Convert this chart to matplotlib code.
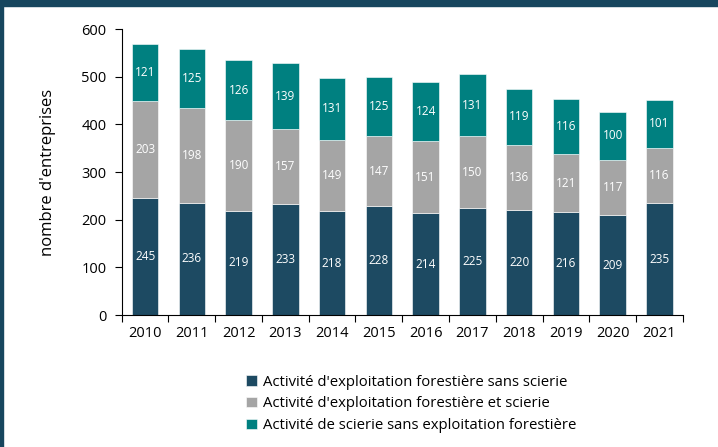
import matplotlib
matplotlib.use("Agg")
import matplotlib.pyplot as plt
from matplotlib.patches import Rectangle
import numpy as np

plt.rcParams["font.family"] = ["Open Sans", "DejaVu Sans"]

years = ["2010", "2011", "2012", "2013", "2014", "2015",
         "2016", "2017", "2018", "2019", "2020", "2021"]
sans_scierie = [245, 236, 219, 233, 218, 228, 214, 225, 220, 216, 209, 235]
et_scierie = [203, 198, 190, 157, 149, 147, 151, 150, 136, 121, 117, 116]
scierie_seule = [121, 125, 126, 139, 131, 125, 124, 131, 119, 116, 100, 101]

series = [
    ("Activité d'exploitation forestière sans scierie", sans_scierie, "#1d4a62"),
    ("Activité d'exploitation forestière et scierie", et_scierie, "#a5a5a5"),
    ("Activité de scierie sans exploitation forestière", scierie_seule, "#008080"),
]

fig = plt.figure(figsize=(7.18, 4.47), dpi=100)
ax = fig.add_axes([0.1695, 0.2953, 0.7815, 0.6397])

x = np.arange(len(years))
bottom = np.zeros(len(years))
handles = []
for name, vals, col in series:
    vals = np.array(vals, dtype=float)
    b = ax.bar(x, vals, width=0.57, bottom=bottom, color=col,
               edgecolor="white", linewidth=0.4, label=name)
    handles.append(b)
    for xi, v, b0 in zip(x, vals, bottom):
        ax.text(xi, b0 + v / 2, f"{int(v)}", ha="center", va="center",
                color="white", fontsize=8.5)
    bottom += vals

ax.set_xlim(-0.5, len(years) - 0.5)
ax.set_ylim(0, 600)
ax.set_yticks(range(0, 601, 100))
ax.set_xticks(x)
ax.set_xticklabels(years)
ax.set_xticks(np.arange(-0.5, len(years)), minor=True)
ax.tick_params(axis="x", which="major", length=0, pad=8, labelsize=10.5)
ax.tick_params(axis="x", which="minor", length=5, width=0.8, direction="out")
ax.tick_params(axis="y", length=5, width=0.8, labelsize=10.5, pad=6)
for s in ("top", "right"):
    ax.spines[s].set_visible(False)
for s in ("left", "bottom"):
    ax.spines[s].set_linewidth(0.8)
ax.set_ylabel("nombre d'entreprises", fontsize=12, labelpad=18)

fig.legend(handles=handles, loc="upper left", bbox_to_anchor=(0.335, 0.175),
           frameon=False, fontsize=10.7, handlelength=0.7, handleheight=0.7,
           handletextpad=0.4, labelspacing=0.45, borderaxespad=0)

# dark frame at top and left edge
fig.patches.append(Rectangle((0, 1 - 6 / 447), 1, 6 / 447, transform=fig.transFigure,
                             color="#17465e", zorder=10))
fig.patches.append(Rectangle((0, 0), 2.5 / 718, 1, transform=fig.transFigure,
                             color="#17465e", zorder=10))

fig.savefig("out.png", dpi=100)
